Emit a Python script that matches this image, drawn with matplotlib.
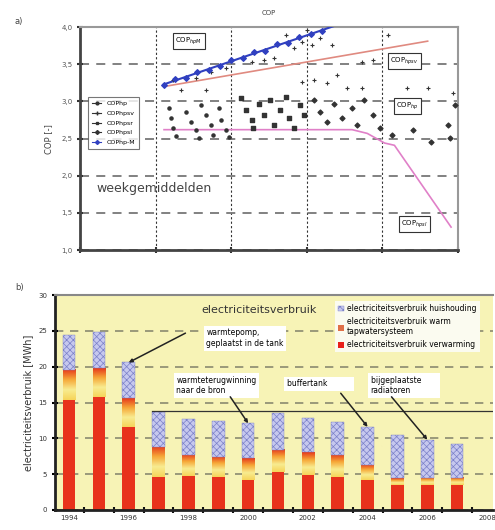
import matplotlib
matplotlib.use("Agg")
import matplotlib.pyplot as plt
import numpy as np
from matplotlib.colors import LinearSegmentedColormap
from matplotlib.lines import Line2D
from matplotlib.patches import Patch
from matplotlib.ticker import FuncFormatter

plt.rcParams['font.family'] = ['DejaVu Sans']
plt.rcParams['hatch.linewidth'] = 0.5

# ---- data panel a (COP, weekgemiddelden) ----
cop_hp_x = [1.17, 1.20, 1.23, 1.27, 1.40, 1.47, 1.53, 1.57, 1.60, 1.67, 1.73, 1.76, 1.84, 1.87, 1.93, 1.97]
cop_hp_y = [2.91, 2.78, 2.64, 2.53, 2.86, 2.72, 2.62, 2.51, 2.95, 2.82, 2.68, 2.55, 2.91, 2.75, 2.62, 2.52]
cop_hpsv_x = [2.27, 2.43, 2.56, 2.73, 2.83, 2.93, 3.00, 3.07, 3.17, 3.33, 2.93, 3.09, 3.27, 3.40, 3.53,
              3.73, 3.73, 3.87, 4.07, 4.33, 4.60, 4.93, 1.23, 1.33, 1.53, 1.73, 1.93, 1.67]
cop_hpsv_y = [3.53, 3.56, 3.58, 3.89, 3.72, 3.80, 3.96, 3.76, 3.85, 3.76, 3.26, 3.29, 3.25, 3.36, 3.18,
              3.18, 3.53, 3.56, 3.89, 3.18, 3.18, 3.11, 3.29, 3.15, 3.31, 3.40, 3.45, 3.15]
cop_hpsr_x = [2.13, 2.20, 2.27, 2.29, 2.37, 2.43, 2.51, 2.56, 2.64, 2.73, 2.77, 2.83, 2.91, 2.96]
cop_hpsr_y = [3.05, 2.88, 2.75, 2.64, 2.97, 2.82, 3.02, 2.68, 2.88, 3.06, 2.78, 2.64, 2.95, 2.82]
cop_hpsl_x = [3.09, 3.17, 3.27, 3.36, 3.47, 3.60, 3.67, 3.76, 3.87, 3.97, 4.13, 4.20, 4.40, 4.64, 4.87, 4.89, 4.96]
cop_hpsl_y = [3.02, 2.86, 2.72, 2.97, 2.78, 2.91, 2.68, 3.02, 2.82, 2.64, 2.55, 2.88, 2.62, 2.45, 2.68, 2.51, 2.95]
cop_m_x = [1.11, 1.25, 1.40, 1.55, 1.70, 1.85, 2.00, 2.15, 2.30, 2.45, 2.60, 2.75, 2.90, 3.05, 3.20]
cop_m_y = [3.22, 3.30, 3.31, 3.40, 3.42, 3.47, 3.56, 3.58, 3.66, 3.68, 3.77, 3.79, 3.87, 3.91, 3.94]

# trend lines
trend_m_x = [1.11, 3.35]
trend_m_y = [3.23, 4.01]
trend_sv_x = [1.11, 4.60]
trend_sv_y = [3.20, 3.81]
trend_sl_x = [1.11, 3.60, 3.80, 4.03, 4.16, 4.91]
trend_sl_y = [2.62, 2.62, 2.57, 2.44, 2.41, 1.31]

# ---- data panel b (electriciteitsverbruik) ----
years = np.arange(1994, 2008)
e_verwarming = np.array([15.3, 15.8, 11.6, 4.6, 4.7, 4.6, 4.2, 5.3, 4.9, 4.6, 4.2, 3.5, 3.5, 3.5])
e_tapwater = np.array([4.2, 4.0, 4.0, 4.2, 3.0, 2.8, 3.0, 3.1, 3.2, 3.1, 2.1, 0.9, 1.0, 1.0])
e_huishouding = np.array([4.9, 5.0, 5.0, 4.9, 5.0, 5.0, 4.9, 5.1, 4.7, 4.6, 5.3, 6.1, 5.3, 4.7])
e_totaal = e_verwarming + e_tapwater + e_huishouding

fig = plt.figure(figsize=(4.95, 5.3), dpi=100)

# ================= panel a =================
ax1 = fig.add_axes([0.162, 0.528, 0.763, 0.421])
ax1.set_xlim(0, 5)
ax1.set_ylim(1, 4)
ax1.set_yticks(np.arange(1, 4.01, 0.5))
ax1.set_xticks(np.arange(0, 5.01, 1))
ax1.set_xticklabels([])
ax1.yaxis.set_major_formatter(FuncFormatter(lambda v, p: f'{v:.1f}'.replace('.', ',')))
ax1.yaxis.grid(True, linestyle=(0, (5, 4)), color='#777777', lw=1.3)
ax1.xaxis.grid(True, linestyle=(0, (2, 2)), color='#333333', lw=0.8)
ax1.set_axisbelow(True)
for s in ['left', 'bottom']:
    ax1.spines[s].set_linewidth(2)
    ax1.spines[s].set_color('#444444')
for s in ['top', 'right']:
    ax1.spines[s].set_linewidth(1.5)
    ax1.spines[s].set_color('#999999')
ax1.tick_params(direction='inout', length=4, width=1.5, labelsize=5, labelcolor='#555555', color='#333333')
ax1.set_ylabel('COP [-]', fontsize=6, color='#444444', labelpad=6)
ax1.set_title('COP', fontsize=5, color='#444444', pad=9)

ax1.plot(trend_sl_x, trend_sl_y, color='#e080c8', lw=1.2, zorder=3)
ax1.plot(trend_sv_x, trend_sv_y, color='#e08a80', lw=1.2, zorder=3)
ax1.plot(trend_m_x, trend_m_y, color='#3040c0', lw=1.5, zorder=3)
ax1.scatter(cop_hp_x, cop_hp_y, s=5, color='#333333', marker='o', zorder=4)
ax1.scatter(cop_hpsv_x, cop_hpsv_y, s=10, color='#333333', marker='+', lw=0.8, zorder=4)
ax1.scatter(cop_hpsr_x, cop_hpsr_y, s=6, color='#333333', marker='s', zorder=4)
ax1.scatter(cop_hpsl_x, cop_hpsl_y, s=6, color='#333333', marker='D', zorder=4)
ax1.scatter(cop_m_x, cop_m_y, s=8, color='#3040c0', marker='D', zorder=5)

legend_a = [
    Line2D([], [], color='#333333', marker='o', ms=2, lw=0.8, label='COPhp'),
    Line2D([], [], color='#333333', marker='+', ms=3, lw=0.8, label='COPhpsv'),
    Line2D([], [], color='#333333', marker='s', ms=2, lw=0.8, label='COPhpsr'),
    Line2D([], [], color='#333333', marker='D', ms=2, lw=0.8, label='COPhpsl'),
    Line2D([], [], color='#3040c0', marker='D', ms=2, lw=0.8, label='COPhp-M'),
]
leg_a = ax1.legend(handles=legend_a, loc='upper left', bbox_to_anchor=(0.013, 0.70), fontsize=4.5,
                   frameon=True, fancybox=False, edgecolor='#555555', handlelength=1.5,
                   borderpad=0.6, labelspacing=0.7)
leg_a.get_frame().set_linewidth(0.8)

box = dict(facecolor='white', edgecolor='#333333', lw=0.8, boxstyle='square,pad=0.3')
ax1.text(1.44, 3.81, 'COP$_{hpM}$', fontsize=5, ha='center', va='center', bbox=box, zorder=6)
ax1.text(4.29, 3.54, 'COP$_{hpsv}$', fontsize=5, ha='center', va='center', bbox=box, zorder=6)
ax1.text(4.33, 2.94, 'COP$_{hp}$', fontsize=5, ha='center', va='center', bbox=box, zorder=6)
ax1.text(4.43, 1.35, 'COP$_{hpsl}$', fontsize=5, ha='center', va='center', bbox=box, zorder=6)
ax1.text(0.22, 1.83, 'weekgemiddelden', fontsize=9, color='#444444', ha='left', va='center')

fig.text(0.03, 0.955, 'a)', fontsize=6, color='#444444')

# ================= panel b =================
ax2 = fig.add_axes([0.111, 0.038, 0.885, 0.405])
ax2.set_facecolor('#f7f3b6')
width = 0.42

grad_cmap = LinearSegmentedColormap.from_list('tap', ['#f6d45a', '#f8ec90', '#f6a838', '#e63a1c'])
gradient = np.linspace(0, 1, 64).reshape(-1, 1)

ax2.bar(years, e_verwarming, width, color='#e8321c', edgecolor='none', zorder=2)
for yr, b, h in zip(years, e_verwarming, e_tapwater):
    ax2.imshow(gradient, cmap=grad_cmap, origin='lower', aspect='auto', zorder=2,
               extent=[yr - width / 2, yr + width / 2, b, b + h])
ax2.bar(years, e_huishouding, width, bottom=e_verwarming + e_tapwater, color='#c6c8ee',
        hatch='xxxxx', edgecolor='#7a80c8', lw=0.3, zorder=2)

ax2.set_xlim(1993.53, 2008.2)
ax2.set_ylim(0, 30)
ax2.set_yticks(np.arange(0, 31, 5))
ax2.set_xticks(np.arange(1994, 2009, 2))
ax2.set_xticks(np.arange(1994.5, 2008, 1), minor=True)
ax2.tick_params(axis='x', which='major', length=0, labelsize=5, labelcolor='#333333', pad=4)
ax2.tick_params(axis='x', which='minor', direction='inout', length=4, width=1.5, color='#111111')
ax2.tick_params(axis='y', direction='inout', length=4, width=1.5, labelsize=5, labelcolor='#333333')
ax2.yaxis.grid(True, linestyle=(0, (5, 4)), color='#8a8a70', lw=1.2)
ax2.set_axisbelow(True)
for s in ['left', 'bottom']:
    ax2.spines[s].set_linewidth(2)
    ax2.spines[s].set_color('#222222')
ax2.spines['top'].set_linewidth(1.5)
ax2.spines['top'].set_color('#888888')
ax2.spines['right'].set_visible(False)
ax2.set_ylabel('electriciteitsverbruik [MWh]', fontsize=7, color='#333333', labelpad=4)

# reference line from 1997 onwards
ref_level = 13.8
ref_start = 1996.79
ax2.plot([ref_start, 2008.2], [ref_level, ref_level], color='#333333', lw=0.9, zorder=3)

ax2.text(1998.45, 27.9, 'electriciteitsverbruik', fontsize=8, color='#333333', ha='left', va='center')

legend_b = [
    Patch(facecolor='#c6c8ee', hatch='xxxxx', edgecolor='#7a80c8', lw=0.3,
          label='electriciteitsverbruik huishouding'),
    Patch(facecolor='#e07048', label='electriciteitsverbruik warm\ntapwatersysteem'),
    Patch(facecolor='#e8201a', label='electriciteitsverbruik verwarming'),
]
leg_b = ax2.legend(handles=legend_b, loc='upper left', bbox_to_anchor=(0.63, 0.99), fontsize=5.5,
                   frameon=True, fancybox=False, facecolor='#fbfbf0', edgecolor='none', framealpha=1,
                   handlelength=0.8, handleheight=0.8, handletextpad=0.4, labelspacing=0.5,
                   borderpad=0.4)

tbox = dict(facecolor='white', edgecolor='none', boxstyle='square,pad=0.35')
arrow = dict(arrowstyle='-|>', color='#222222', lw=1.1, mutation_scale=5, shrinkA=0, shrinkB=0)

ax2.text(1998.6, 24.0, 'warmtepomp,\ngeplaatst in de tank', fontsize=5.5, ha='left', va='center',
         bbox=tbox, zorder=4)
ax2.annotate('', xy=(years[2], e_totaal[2]), xytext=(1997.9, 24.7), arrowprops=arrow, zorder=4)

ax2.text(1997.6, 17.4, 'warmteterugwinning\nnaar de bron', fontsize=5.5, ha='left', va='center',
         bbox=tbox, zorder=4)
ax2.annotate('', xy=(years[6], e_totaal[6]), xytext=(1999.4, 15.8), arrowprops=arrow, zorder=4)

ax2.text(2001.3, 17.6, 'buffertank          ', fontsize=5.5, ha='left', va='center', bbox=tbox, zorder=4)
ax2.annotate('', xy=(years[10], e_totaal[10]), xytext=(2003.1, 16.3), arrowprops=arrow, zorder=4)

ax2.text(2004.1, 17.4, 'bijgeplaatste       \nradiatoren', fontsize=5.5, ha='left', va='center',
         bbox=tbox, zorder=4)
ax2.annotate('', xy=(years[12], e_totaal[12]), xytext=(2004.8, 15.8), arrowprops=arrow, zorder=4)

fig.text(0.03, 0.452, 'b)', fontsize=6, color='#444444')

fig.savefig('out.png', dpi=100)
plt.close(fig)
